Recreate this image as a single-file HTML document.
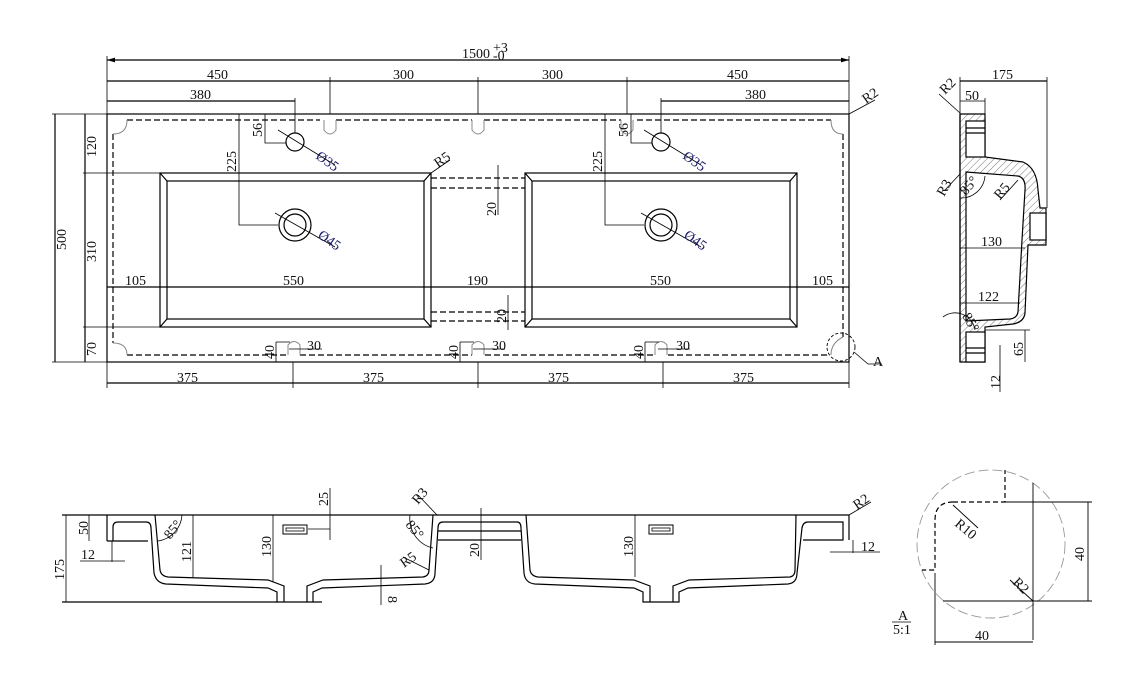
<!DOCTYPE html>
<html><head><meta charset="utf-8"><style>
html,body{margin:0;padding:0;background:#fff;}
svg{display:block}
text{font-family:"Liberation Serif",serif;font-size:14px;fill:#111}
.b{fill:#1a1a6a}
</style></head><body>
<svg width="1127" height="681" viewBox="0 0 1127 681" xmlns="http://www.w3.org/2000/svg">
<defs>
<marker id="a" viewBox="0 0 10 6" refX="10" refY="3" markerWidth="8" markerHeight="4" orient="auto-start-reverse"><path d="M0,0L10,3L0,6z" fill="#000"/></marker>
<pattern id="h" width="5" height="5" patternUnits="userSpaceOnUse" patternTransform="rotate(45)"><line x1="0" y1="0" x2="0" y2="5" stroke="#555" stroke-width="0.8"/></pattern>
</defs>
<g fill="none" stroke="#000" stroke-width="1.2">
<!-- ===== TOP VIEW ===== -->
<rect x="107" y="114" width="742" height="248"/>
<g stroke-dasharray="6,3">
<path d="M127,120H320M336,120H472M484,120H621M637,120H831"/>
<path d="M113,134V343M843,134V337"/>
<path d="M127,355H287M300,355H472M485,355H655M668,355H830"/>
<path d="M431,178H525M431,188H525M431,312H525M431,321H525"/>
</g>
<g stroke="#888" stroke-width="1">
<path d="M113,134Q127,134 127,120"/>
<path d="M113,343Q127,343 127,355"/>
<path d="M843,134Q831,134 831,120"/>
<path d="M843,337Q831,343 831,355"/>
<path d="M324,120V130Q330,138 336,130V120"/>
<path d="M472,120V130Q478,138 484,130V120"/>
<path d="M621,120V130Q627,138 633,130V120"/>
<path d="M288,355V345Q294,338 300,345V355"/>
<path d="M472,355V345Q478,338 484,345V355"/>
<path d="M655,355V345Q661,338 667,345V355"/>
</g>
<rect x="160" y="173" width="271" height="154"/>
<rect x="167" y="181" width="257" height="138"/>
<path d="M160,173L167,181M431,173L424,181M160,327L167,319M431,327L424,319"/>
<rect x="525" y="173" width="272" height="154"/>
<rect x="532" y="181" width="258" height="138"/>
<path d="M525,173L532,181M797,173L790,181M525,327L532,319M797,327L790,319"/>
<circle cx="295" cy="142" r="9"/><circle cx="661" cy="142" r="9"/>
<circle cx="295" cy="225" r="16"/><circle cx="295" cy="225" r="11"/>
<circle cx="661" cy="225" r="16"/><circle cx="661" cy="225" r="11"/>
<path d="M278,130L335,165M275,213L335,247M644,130L701,165M641,213L701,247" stroke-width="0.8"/>
<path d="M107,56V114M849,56V114" stroke-width="0.8"/>
<path d="M107,60H849" marker-start="url(#a)" marker-end="url(#a)"/>
<path d="M107,81H849" />
<path d="M330,77V114M478,77V114M627,77V114" stroke-width="0.8"/>
<path d="M107,101H295M661,101H849"/>
<path d="M295,98V133M661,98V133" stroke-width="0.8"/>
<path d="M239,114V225H278M605,114V225H644" stroke-width="0.8"/>
<path d="M265,114V143H286M631,114V143H652" stroke-width="0.8"/>
<path d="M52,114H107M52,362H107M83,173H160M83,327H160" stroke-width="0.8"/>
<path d="M55,114V362M85,114V362"/>
<path d="M107,287H849"/>
<path d="M498,165V215M508,295V330" stroke-width="0.8"/>
<path d="M276,342V362M460,342V362M645,342V362" stroke-width="0.8"/>
<path d="M276,342H290M289,349H322M460,342H474M473,349H505M645,342H659M658,349H690" stroke-width="0.8"/>
<path d="M107,362V388M293,362V388M478,362V388M663,362V388M849,362V388" stroke-width="0.8"/>
<path d="M107,383H849"/>
<path d="M431,173L450,160M849,114L875,100" stroke-width="0.8"/>
<circle cx="841" cy="347" r="14" stroke-dasharray="3,2" stroke-width="0.9"/>
<path d="M854,352L868,364H882" stroke-width="0.8"/>

<!-- ===== SIDE VIEW ===== -->
<path d="M960,114H985V157L1023,162Q1037,168 1038,190L1040,208H1046V245H1028L1025,313Q1024,322 1013,324L985,327V362H960Z M966,172L1018,176Q1026,178 1025,190L1022,240L1018,312Q1017,318 1010,319L966,321Z" fill="url(#h)" fill-rule="evenodd"/>
<rect x="966" y="121" width="19" height="36" fill="#fff"/>
<path d="M966,128H985M966,133H985"/>
<rect x="966" y="332" width="19" height="30" fill="#fff"/>
<path d="M966,348H985M966,353H985"/>
<rect x="1030" y="213" width="16" height="27" fill="#fff"/>
<path d="M960,114V362"/>
<path d="M960,77V114M1047,77V208" stroke-width="0.8"/>
<path d="M960,81H1047"/>
<path d="M960,101H985M985,98V114" stroke-width="0.8"/>
<path d="M960,248H1025M960,303H1020" stroke-width="0.8"/>
<path d="M985,330H1030M1025,330V362M1000,345V392" stroke-width="0.8"/>
<path d="M939,94L960,113M945,190L960,174M1000,200L1018,180" stroke-width="0.8"/>
<path d="M960,198A24,24 0 0 0 985,176M943,317A20,20 0 0 1 975,330" stroke-width="0.8"/>

<!-- ===== FRONT VIEW ===== -->
<path d="M62,515H849V540M107,515V541M62,602H277M313,602H322"/>
<path d="M107,541H148M113,541V527Q113,522 118,522H146Q151,522 151,528"/>
<!-- basin1 -->
<path d="M155,515L160,570Q161,576 168,577L268,580L284,586V602M307,602V586L323,580L423,577Q429,576 429,570L433,515"/>
<path d="M151,528L154,573Q156,583 166,584L268,588L277,592V602H313V592L322,588L425,584Q435,583 435,573L438,528Q438,522 443,522H517Q521,522 521,528"/>
<path d="M438,531H521M438,540H521"/>
<!-- basin2 -->
<path d="M521,528L524,573Q525,583 535,584L634,588L643,592V602H679V592L688,588L788,584Q797,583 797,573L802,528Q803,522 808,522H843V540H803"/>
<path d="M526,515L530,570Q531,576 538,577L634,580L650,586V602M673,602V586L689,580L790,577Q795,576 795,570L796,515"/>
<rect x="283" y="525" width="24" height="9" stroke-width="1"/><rect x="286" y="528" width="18" height="3" stroke-width="0.8"/>
<rect x="649" y="525" width="24" height="9" stroke-width="1"/><rect x="652" y="528" width="18" height="3" stroke-width="0.8"/>
<path d="M66,515V602M89,515V541M112,541V562M80,561H125M193,515V577M273,515V582M330,488V540M308,529H330M481,508V560M381,565V605M635,515V577M853,540V553M830,552H880" stroke-width="0.8"/>
<path d="M418,495L437,515M403,557L429,570M849,515L871,502" stroke-width="0.8"/>
<path d="M158,541A28,28 0 0 0 182,515M433,548A30,30 0 0 1 410,515" stroke-width="0.8"/>

<!-- ===== DETAIL A ===== -->
<circle cx="991" cy="544" r="74" stroke="#999" stroke-dasharray="10,4" stroke-width="0.9"/>
<path d="M953,502H1005V470M953,502Q935,502 935,520V570H922" stroke-dasharray="5,3"/>
<path d="M935,573V645M943,601H1092M1033,483V640M1005,502H1092M1088,502V601M935,642H1033M1010,580L1033,601M953,505L978,528" stroke-width="0.9"/>
<path d="M892,622H911" stroke-width="0.8"/>
</g>
<text x="462" y="58">1500</text><text x="493" y="52" font-size="8">+3</text><text x="493" y="60" font-size="8">-0</text>
<text x="207" y="79">450</text><text x="393" y="79">300</text><text x="542" y="79">300</text><text x="727" y="79">450</text>
<text x="190" y="99">380</text><text x="745" y="99">380</text>
<text x="125" y="285">105</text><text x="283" y="285">550</text><text x="467" y="285">190</text><text x="650" y="285">550</text><text x="812" y="285">105</text>
<text x="177" y="382">375</text><text x="363" y="382">375</text><text x="548" y="382">375</text><text x="733" y="382">375</text>
<text x="307" y="350">30</text><text x="492" y="350">30</text><text x="676" y="350">30</text>
<text x="866" y="104" transform="rotate(-35 866 104)">R2</text>
<text x="438" y="168" transform="rotate(-35 438 168)">R5</text>
<text x="873" y="366" font-size="16">A</text>
<g font-size="14">
<text transform="translate(66,250) rotate(-90)">500</text>
<text transform="translate(96,157) rotate(-90)">120</text>
<text transform="translate(96,262) rotate(-90)">310</text>
<text transform="translate(96,356) rotate(-90)">70</text>
<text transform="translate(236,172) rotate(-90)">225</text>
<text transform="translate(602,172) rotate(-90)">225</text>
<text transform="translate(262,137) rotate(-90)">56</text>
<text transform="translate(628,137) rotate(-90)">56</text>
<text transform="translate(496,216) rotate(-90)">20</text>
<text transform="translate(506,323) rotate(-90)">20</text>
<text transform="translate(274,359) rotate(-90)">40</text>
<text transform="translate(458,359) rotate(-90)">40</text>
<text transform="translate(643,359) rotate(-90)">40</text>
<text x="315" y="158" transform="rotate(35 315 158)" class="b">Ø35</text>
<text x="682" y="158" transform="rotate(35 682 158)" class="b">Ø35</text>
<text x="317" y="237" transform="rotate(35 317 237)" class="b">Ø45</text>
<text x="683" y="237" transform="rotate(35 683 237)" class="b">Ø45</text>
</g>
<text x="992" y="79">175</text><text x="965" y="100">50</text>
<text x="945" y="95" transform="rotate(-45 945 95)">R2</text>
<text x="944" y="197" transform="rotate(-60 944 197)">R3</text>
<text x="966" y="196" transform="rotate(-50 966 196)">85°</text>
<text x="1000" y="200" transform="rotate(-50 1000 200)">R5</text>
<text x="981" y="246">130</text><text x="978" y="301">122</text>
<text x="962" y="316" transform="rotate(60 962 316)">85°</text>
<text transform="translate(1023,356) rotate(-90)">65</text>
<text transform="translate(1000,389) rotate(-90)">12</text>
<text transform="translate(64,580) rotate(-90)">175</text>
<text transform="translate(88,535) rotate(-90)">50</text>
<text x="81" y="559">12</text>
<text x="170" y="540" transform="rotate(-50 170 540)">85°</text>
<text transform="translate(191,562) rotate(-90)">121</text>
<text transform="translate(271,557) rotate(-90)">130</text>
<text transform="translate(328,506) rotate(-90)">25</text>
<text x="418" y="505" transform="rotate(-50 418 505)">R3</text>
<text x="405" y="525" transform="rotate(50 405 525)">85°</text>
<text x="404" y="568" transform="rotate(-35 404 568)">R5</text>
<text transform="translate(479,557) rotate(-90)">20</text>
<text transform="translate(388,596) rotate(90)">8</text>
<text transform="translate(633,557) rotate(-90)">130</text>
<text x="857" y="510" transform="rotate(-35 857 510)">R2</text>
<text x="861" y="551">12</text>
<text x="954" y="525" transform="rotate(40 954 525)">R10</text>
<text x="1012" y="583" transform="rotate(45 1012 583)">R2</text>
<text transform="translate(1084,561) rotate(-90)">40</text>
<text x="975" y="640">40</text>
<text x="898" y="620" font-size="11">A</text><text x="893" y="634" font-size="11">5:1</text>
</svg>
</body></html>
